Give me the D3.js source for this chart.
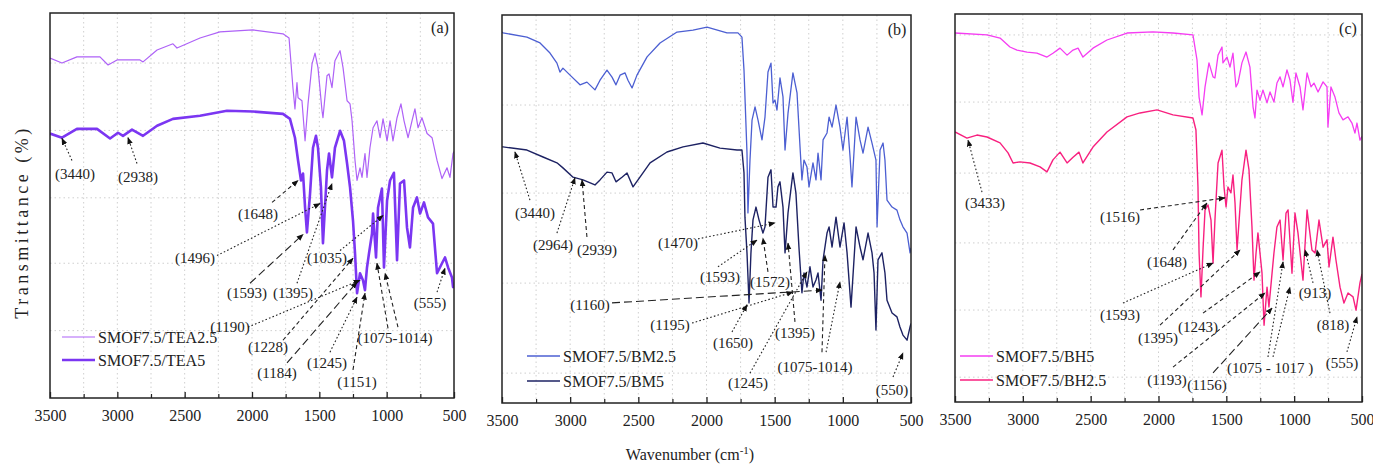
<!DOCTYPE html>
<html><head><meta charset="utf-8">
<script src="https://cdn.jsdelivr.net/npm/d3@7"></script>
<style>
body{margin:0;background:#fff;}
text{font-family:"Liberation Serif","Times New Roman",serif;fill:#222;}
</style></head>
<body>
<svg id="chart" width="1373" height="466"></svg>
<script>
// ---------- DATA (wavenumber cm-1, transmittance arbitrary %) ----------
const xTicks = [3500, 3000, 2500, 2000, 1500, 1000, 500];
const xMinorTicks = [3250, 2750, 2250, 1750, 1250, 750];

const tea25 = [[3500,88.3],[3411,87.0],[3300,88.6],[3129,88.6],[3069,86.5],[3002,87.8],[2832,87.8],[2809,87.3],[2705,90.4],[2587,92.0],[2557,90.9],[2386,93.5],[2238,95.1],[1993,95.6],[1770,94.6],[1725,93.5],[1696,80.6],[1681,75.1],[1666,81.9],[1658,78.0],[1629,77.2],[1606,66.8],[1584,76.4],[1554,86.8],[1532,89.6],[1510,85.8],[1480,74.6],[1473,72.8],[1443,83.7],[1428,84.2],[1406,80.6],[1384,87.6],[1346,90.2],[1324,85.8],[1294,77.2],[1272,76.4],[1257,72.0],[1235,61.7],[1220,56.5],[1198,59.8],[1183,57.3],[1161,63.5],[1146,57.3],[1124,65.0],[1101,70.2],[1072,72.0],[1049,67.6],[1027,72.5],[997,66.8],[975,72.0],[953,66.8],[923,72.8],[894,76.4],[871,72.0],[841,67.6],[812,72.0],[790,75.1],[767,70.2],[738,72.8],[700,68.7],[663,67.6],[626,61.7],[589,57.0],[552,59.8],[530,57.3],[507,63.5],[500,64.0]];

const tea5 = [[3500,68.7],[3411,67.6],[3300,69.9],[3151,69.9],[3054,67.4],[2995,68.9],[2958,68.1],[2891,69.7],[2809,68.1],[2705,70.7],[2587,72.5],[2386,73.3],[2186,74.6],[1993,74.4],[1770,73.8],[1718,72.5],[1681,67.6],[1658,61.7],[1636,56.5],[1621,58.3],[1606,49.5],[1592,43.0],[1569,53.1],[1547,65.0],[1525,68.1],[1510,65.0],[1488,54.7],[1473,40.2],[1443,59.1],[1428,63.5],[1406,57.3],[1384,65.0],[1346,69.4],[1317,66.8],[1294,60.9],[1272,54.7],[1250,46.1],[1235,37.6],[1220,27.2],[1198,32.4],[1176,30.6],[1161,28.0],[1146,33.9],[1131,37.6],[1109,42.7],[1101,47.9],[1079,36.5],[1064,49.5],[1035,54.4],[1020,33.9],[997,51.3],[975,56.5],[946,58.5],[923,35.8],[901,55.7],[871,56.5],[849,44.3],[827,39.1],[804,49.5],[775,52.1],[752,47.9],[723,50.8],[693,46.9],[656,45.3],[626,32.4],[589,35.0],[567,36.5],[544,33.9],[515,31.3],[507,28.8],[500,30.0]];

const bm25 = [[3500,95.6],[3493,95.4],[3317,94.3],[3221,92.8],[3148,90.2],[3097,87.6],[3075,85.3],[3053,86.3],[3001,84.5],[2928,82.0],[2877,82.7],[2818,80.7],[2781,83.2],[2730,85.8],[2693,84.0],[2664,82.0],[2634,84.5],[2598,85.1],[2576,83.2],[2546,81.2],[2510,84.5],[2436,89.2],[2341,92.8],[2216,95.6],[2099,96.1],[1996,96.9],[1850,95.4],[1769,95.4],[1740,94.3],[1725,85.8],[1703,64.4],[1696,49.0],[1681,62.6],[1666,72.9],[1644,76.3],[1622,72.9],[1593,67.8],[1571,73.7],[1549,85.3],[1527,87.6],[1512,77.3],[1498,78.1],[1483,75.5],[1461,83.8],[1439,78.9],[1424,65.2],[1402,74.7],[1366,85.1],[1336,79.9],[1314,66.0],[1300,57.5],[1285,62.6],[1263,60.8],[1248,55.7],[1219,61.9],[1197,57.5],[1182,64.4],[1160,57.5],[1145,67.8],[1116,69.6],[1101,73.7],[1079,71.1],[1050,76.8],[1021,71.1],[999,65.2],[969,73.7],[947,63.4],[933,55.7],[903,73.7],[874,67.8],[852,64.4],[815,71.1],[786,67.0],[757,62.6],[749,45.4],[727,65.2],[705,67.0],[691,62.6],[676,52.3],[639,50.5],[603,49.7],[581,47.2],[559,45.4],[529,43.8],[507,38.7],[500,40.0]];

const bm5 = [[3500,66.0],[3493,66.0],[3317,65.2],[3199,63.4],[3097,61.9],[3053,60.6],[2979,58.2],[2906,57.5],[2818,56.2],[2781,57.5],[2730,59.5],[2693,59.3],[2664,57.0],[2620,58.2],[2583,59.3],[2539,55.7],[2488,58.2],[2414,61.9],[2290,64.7],[2172,66.0],[2026,67.0],[1901,65.7],[1776,65.2],[1740,65.2],[1725,59.3],[1718,47.9],[1703,38.7],[1688,25.8],[1674,38.7],[1659,47.2],[1637,50.5],[1615,47.2],[1586,43.8],[1571,45.4],[1549,58.2],[1527,60.1],[1512,50.5],[1490,50.5],[1476,55.7],[1461,57.0],[1439,50.5],[1424,38.7],[1402,49.0],[1366,59.3],[1344,54.1],[1322,40.2],[1300,28.4],[1285,33.5],[1263,29.9],[1241,35.1],[1219,29.9],[1197,31.7],[1182,33.5],[1160,26.5],[1145,36.9],[1116,43.8],[1101,45.4],[1079,40.2],[1050,47.9],[1021,40.2],[991,46.4],[969,38.7],[940,24.7],[903,45.4],[874,40.2],[852,36.9],[815,43.8],[786,38.7],[771,33.5],[757,18.8],[742,36.9],[713,38.7],[691,33.5],[676,26.5],[639,23.2],[603,22.2],[581,19.6],[559,17.5],[529,16.2],[507,19.6],[500,20.5]];

const bh5 = [[3500,95.1],[3264,94.6],[3168,93.8],[3095,91.5],[3043,90.7],[2969,90.2],[2896,89.9],[2822,88.9],[2778,89.9],[2726,91.2],[2674,89.4],[2630,90.7],[2593,91.2],[2557,88.9],[2483,91.2],[2380,93.3],[2232,95.1],[2041,95.4],[1893,95.1],[1746,94.6],[1716,88.1],[1701,78.6],[1679,74.0],[1657,81.2],[1628,87.4],[1598,83.8],[1584,83.5],[1561,89.4],[1532,91.5],[1525,87.4],[1495,88.9],[1473,86.3],[1451,89.9],[1429,81.2],[1414,82.2],[1385,87.4],[1355,90.2],[1326,86.3],[1303,76.0],[1289,73.2],[1274,80.4],[1252,77.8],[1230,80.4],[1200,77.1],[1178,79.9],[1149,77.3],[1127,82.2],[1104,83.8],[1082,81.2],[1053,85.6],[1031,83.0],[1009,77.3],[987,84.8],[957,81.2],[935,75.3],[905,84.8],[876,81.2],[854,82.2],[824,79.9],[787,82.5],[758,81.2],[751,70.9],[729,81.2],[699,78.6],[670,74.5],[640,72.7],[603,73.5],[574,71.9],[552,69.3],[537,71.9],[515,67.5],[500,68.5]];

const bh25 = [[3500,69.6],[3412,68.0],[3338,68.8],[3264,68.3],[3168,66.8],[3109,64.2],[3072,61.6],[3021,61.9],[2947,61.6],[2873,60.6],[2822,59.3],[2778,62.4],[2726,64.4],[2674,61.6],[2630,63.1],[2586,64.4],[2557,61.6],[2483,65.7],[2380,69.6],[2232,73.5],[2136,74.5],[2011,75.3],[1893,74.0],[1746,73.2],[1724,70.1],[1709,55.4],[1701,38.4],[1687,27.1],[1672,39.2],[1657,49.5],[1635,50.8],[1613,46.9],[1598,35.8],[1584,46.9],[1561,61.6],[1532,64.9],[1517,55.4],[1502,50.3],[1488,55.4],[1466,53.9],[1451,58.5],[1436,51.3],[1421,39.2],[1385,57.2],[1355,64.9],[1333,59.8],[1311,45.1],[1296,31.4],[1281,38.4],[1267,43.6],[1237,33.2],[1222,19.8],[1200,29.6],[1186,24.5],[1163,33.2],[1149,38.4],[1127,45.1],[1104,46.9],[1082,36.6],[1060,48.7],[1045,49.5],[1016,33.2],[994,48.7],[972,43.6],[935,31.4],[905,49.5],[869,39.2],[846,38.4],[817,46.9],[787,39.9],[758,41.8],[743,34.8],[714,42.5],[692,36.6],[662,29.6],[633,25.5],[603,28.1],[566,27.1],[544,23.7],[515,30.7],[500,33.0]];

// annotations: [label, textW, textV, [[fromW,fromV,toW,toV,style],...]]
const annotA = [
  ["(3440)",3314,58.3,[[3337,61.7,3411,67.4,"dot"]]],
  ["(2938)",2847,57.3,[[2854,60.9,2921,67.6,"dot"]]],
  ["(1648)",1955,47.9,[[1851,50.8,1658,56.5,"dash"]]],
  ["(1496)",2423,36.3,[[2260,37.0,1495,50.5,"dot"]]],
  ["(1593)",2037,27.2,[[2015,29.8,1621,42.5,"long"]]],
  ["(1395)",1696,27.2,[[1666,29.8,1406,55.7,"dot"]]],
  ["(1035)",1443,36.3,[[1346,38.3,1027,47.4,"dot"]]],
  ["(1190)",2163,18.4,[[2030,18.4,1198,30.6,"dot"]]],
  ["(1228)",1881,13.2,[[1770,15.0,1250,36.3,"dash"]]],
  ["(1184)",1814,6.5,[[1740,9.1,1220,30.1,"long"]]],
  ["(1245)",1443,9.1,[[1421,11.9,1220,26.2,"dot"]]],
  ["(1151)",1220,4.1,[[1250,7.3,1161,27.2,"dash"]]],
  ["(1075-1014)",938,15.5,[[990,18.1,1072,35.0,"dash"],[916,18.4,1012,32.4,"dash"]]],
  ["(555)",678,24.6,[[626,27.5,567,33.7,"dot"]]]
];
const annotB = [
  ["(3440)",3258,49.0,[[3295,52.3,3405,64.7,"dot"]]],
  ["(2964)",3126,40.7,[[3097,43.8,2965,58.0,"dot"]]],
  ["(2939)",2803,39.4,[[2877,42.8,2913,57.5,"dash"]]],
  ["(1470)",2209,41.2,[[2062,42.3,1498,46.4,"dot"]]],
  ["(1593)",1901,32.5,[[1916,35.1,1630,42.0,"dot"]]],
  ["(1572)",1534,31.2,[[1549,33.8,1586,42.5,"dash"]]],
  ["(1160)",2855,25.3,[[2693,25.8,1153,29.1,"long"]]],
  ["(1195)",2268,20.1,[[2106,20.6,1366,28.6,"dot"]]],
  ["(1650)",1806,15.5,[[1813,18.3,1703,25.3,"dot"]]],
  ["(1245)",1696,5.2,[[1681,7.7,1263,33.8,"dot"]]],
  ["(1395)",1351,18.0,[[1351,20.9,1402,41.2,"dash"]]],
  ["(1075-1014)",1204,9.3,[[1153,13.1,1131,38.1,"dash"],[1123,13.1,1021,31.2,"dot"]]],
  ["(550)",639,3.4,[[632,6.7,559,12.9,"dot"]]]
];
const annotC = [
  ["(3433)",3279,51.3,[[3301,54.1,3404,67.5,"dot"]]],
  ["(1516)",2284,47.7,[[2136,49.5,1510,52.6,"dash"]]],
  ["(1648)",1937,36.1,[[1893,39.2,1643,51.3,"dash"]]],
  ["(1593)",2284,22.4,[[2262,25.5,1598,35.8,"dot"]]],
  ["(1395)",2004,16.5,[[1989,19.8,1399,39.2,"dash"]]],
  ["(1243)",1709,19.3,[[1672,22.9,1252,33.5,"dash"]]],
  ["(1193)",1937,5.7,[[1893,9.0,1215,28.1,"dash"]]],
  ["(1156)",1642,4.4,[[1598,7.5,1163,24.2,"long"]]],
  ["(1075 - 1017 )",1178,8.8,[[1193,11.6,1082,36.1,"dot"],[1156,11.6,1031,29.6,"dot"]]],
  ["(913)",846,28.1,[[861,30.7,920,39.2,"dot"]]],
  ["(818)",714,19.8,[[736,22.9,832,39.2,"dot"]]],
  ["(555)",647,10.1,[[611,12.9,537,21.9,"dot"]]]
];

const gridA = [17.5, 35, 52, 69.5, 87];
const gridB = [7.7, 30.9, 54.1, 76.8];
const gridC = [6.4, 23.7, 41, 59, 77.3, 94.6];

// ---------- LAYOUT ----------
const panels = [
  {id:"a", label:"(a)", box:[50,454,13,398], series:[
     {name:"SMOF7.5/TEA2.5", data:tea25, color:"#AE62F7", width:1.2},
     {name:"SMOF7.5/TEA5", data:tea5, color:"#7B36F2", width:2.6}],
   annot:annotA, grid:gridA, legendX:62, legendY:[337,360]},
  {id:"b", label:"(b)", box:[502,911,15,403], series:[
     {name:"SMOF7.5/BM2.5", data:bm25, color:"#4C5FD2", width:1.3},
     {name:"SMOF7.5/BM5", data:bm5, color:"#1D2263", width:1.4}],
   annot:annotB, grid:gridB, legendX:527, legendY:[356,381]},
  {id:"c", label:"(c)", box:[955,1362,14,402], series:[
     {name:"SMOF7.5/BH5", data:bh5, color:"#F53DF2", width:1.3},
     {name:"SMOF7.5/BH2.5", data:bh25, color:"#F8207F", width:1.4}],
   annot:annotC, grid:gridC, legendX:960, legendY:[356,380]}
];

const svg = d3.select("#chart");
const defs = svg.append("defs");
defs.append("marker").attr("id","arr").attr("viewBox","0 0 10 10")
  .attr("refX",9).attr("refY",5).attr("markerWidth",7).attr("markerHeight",7)
  .attr("markerUnits","userSpaceOnUse").attr("orient","auto")
  .append("path").attr("d","M0,1 L10,5 L0,9 Z").attr("fill","#111");

const dashes = {dot:"1.6,2.2", dash:"4,3", long:"8,4"};

panels.forEach(p => {
  const [L,R,T,B] = p.box;
  const x = d3.scaleLinear().domain([3500,500]).range([L,R]);
  const y = d3.scaleLinear().domain([0,100]).range([B,T]);
  const g = svg.append("g");

  defs.append("clipPath").attr("id","clip"+p.id).append("rect")
    .attr("x",L).attr("y",T).attr("width",R-L).attr("height",B-T);

  // grid
  g.append("g").selectAll("line").data(xTicks.concat(xMinorTicks).filter(d=>d>500&&d<3500)).join("line")
    .attr("x1",d=>x(d)).attr("x2",d=>x(d)).attr("y1",T).attr("y2",B)
    .attr("stroke","#cfcfcf").attr("stroke-width",1).attr("stroke-dasharray","1.5,3");
  g.append("g").selectAll("line").data(p.grid).join("line")
    .attr("x1",L).attr("x2",R).attr("y1",d=>y(d)).attr("y2",d=>y(d))
    .attr("stroke","#cfcfcf").attr("stroke-width",1).attr("stroke-dasharray","1.5,3");

  // curves
  const line = d3.line().x(d=>x(d[0])).y(d=>y(d[1]));
  const cg = g.append("g").attr("clip-path","url(#clip"+p.id+")");
  p.series.forEach(s => {
    cg.append("path").datum(s.data).attr("d",line).attr("fill","none")
      .attr("stroke",s.color).attr("stroke-width",s.width).attr("stroke-linejoin","round");
  });

  // annotations
  p.annot.forEach(a => {
    a[3].forEach(seg => {
      g.append("line").attr("x1",x(seg[0])).attr("y1",y(seg[1]))
        .attr("x2",x(seg[2])).attr("y2",y(seg[3]))
        .attr("stroke","#222").attr("stroke-width",1.1)
        .attr("stroke-dasharray",dashes[seg[4]])
        .attr("marker-end","url(#arr)");
    });
    g.append("text").attr("x",x(a[1])).attr("y",y(a[2]))
      .attr("text-anchor","middle").attr("dominant-baseline","central")
      .attr("font-size",15).text(a[0]);
  });

  // frame
  g.append("rect").attr("x",L).attr("y",T).attr("width",R-L).attr("height",B-T)
    .attr("fill","none").attr("stroke","#222").attr("stroke-width",1.5);

  // x axis ticks (inward)
  const ax = g.append("g").attr("transform",`translate(0,${B})`)
    .call(d3.axisBottom(x).tickValues(xTicks).tickSize(-6).tickPadding(12).tickFormat(d3.format("d")));
  ax.select(".domain").remove();
  ax.selectAll(".tick line").attr("stroke","#222").attr("stroke-width",1.3);
  ax.selectAll(".tick text").attr("font-size",16).attr("fill","#222")
    .attr("font-family","Liberation Serif, serif");
  const axm = g.append("g").attr("transform",`translate(0,${B})`)
    .call(d3.axisBottom(x).tickValues(xMinorTicks).tickSize(-4).tickFormat(""));
  axm.select(".domain").remove();
  axm.selectAll(".tick line").attr("stroke","#222").attr("stroke-width",1.2);

  // panel label
  g.append("text").attr("x",R-14).attr("y",T+20).attr("text-anchor","middle")
    .attr("font-size",16).text(p.label);

  // legend
  p.series.forEach((s,i) => {
    g.append("line").attr("x1",p.legendX).attr("x2",p.legendX+33)
      .attr("y1",p.legendY[i]).attr("y2",p.legendY[i])
      .attr("stroke",s.color).attr("stroke-width",s.width);
    g.append("text").attr("x",p.legendX+36).attr("y",p.legendY[i])
      .attr("dominant-baseline","central").attr("font-size",16).text(s.name);
  });
});

// axis titles
svg.append("text").attr("transform","translate(22,222) rotate(-90)")
  .attr("text-anchor","middle").attr("dominant-baseline","central")
  .attr("font-size",18).attr("letter-spacing",3.5).text("Transmittance (%)");
const xt = svg.append("text").attr("x",690).attr("y",460).attr("text-anchor","middle").attr("font-size",16);
xt.append("tspan").text("Wavenumber (cm");
xt.append("tspan").attr("dy",-6).attr("font-size",11).text("-1");
xt.append("tspan").attr("dy",6).text(")");
</script>
</body></html>
